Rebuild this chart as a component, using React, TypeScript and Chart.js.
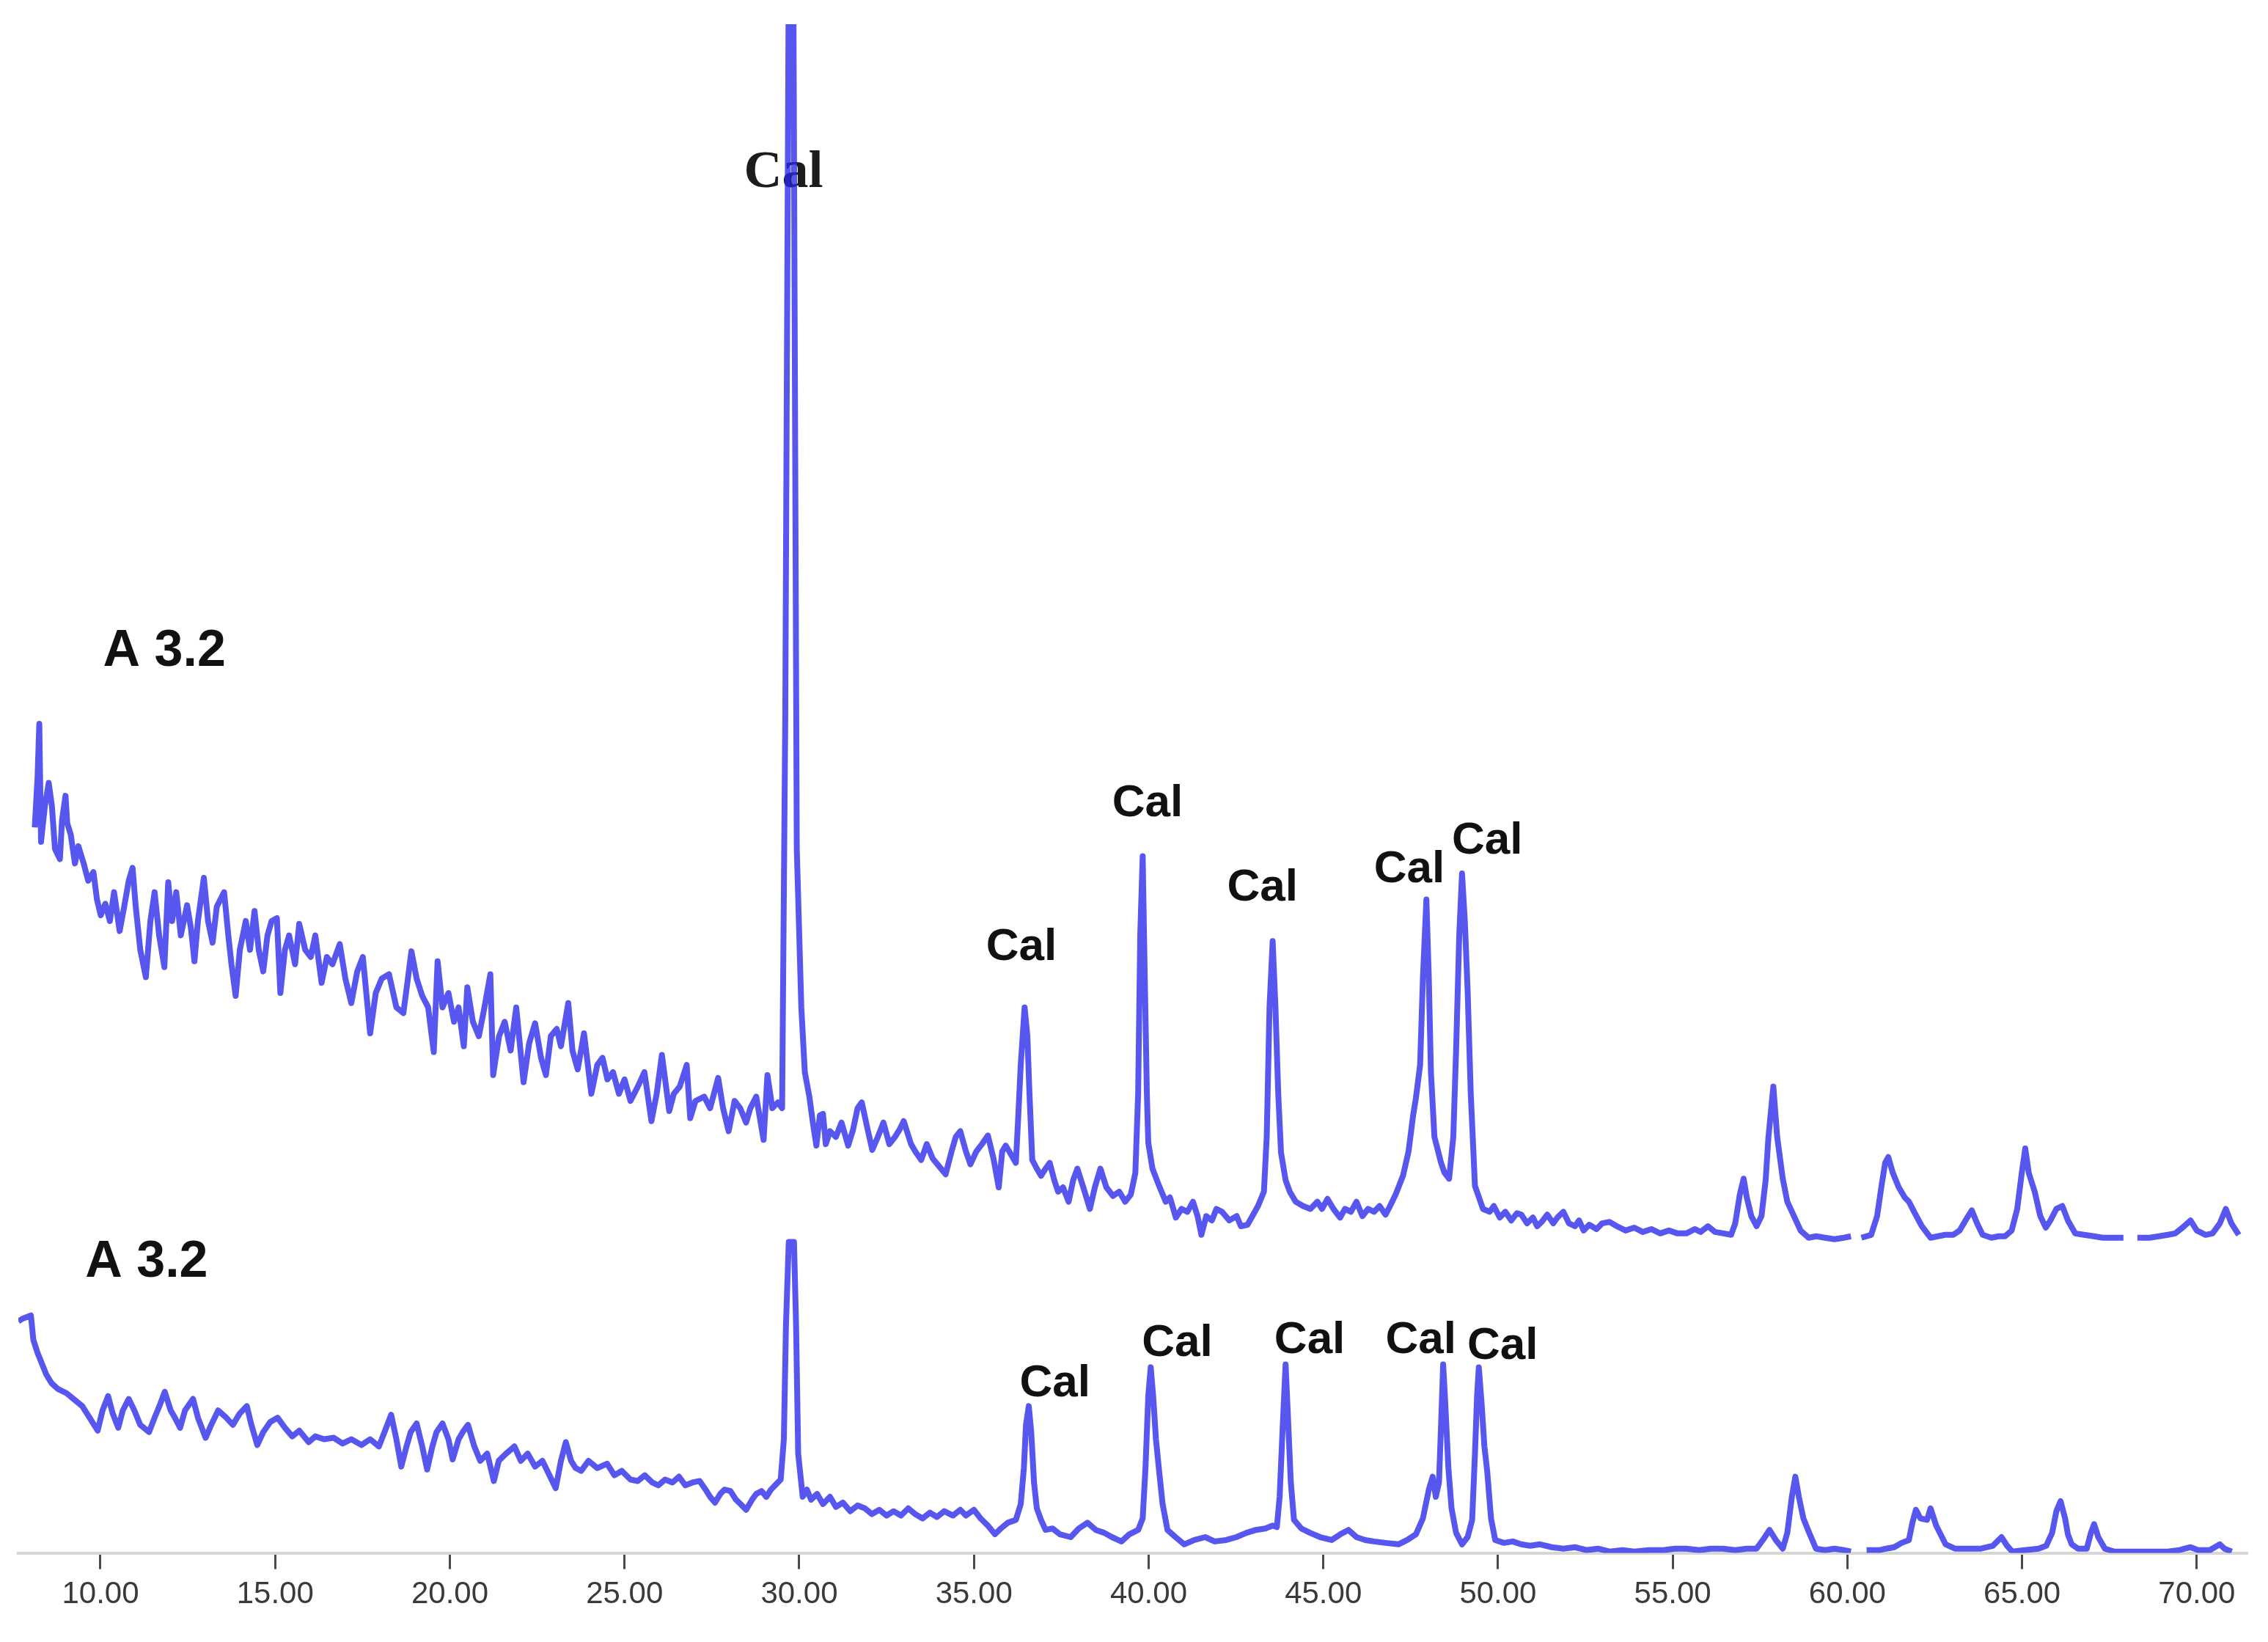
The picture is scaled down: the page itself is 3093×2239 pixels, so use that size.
import React, { useEffect, useRef } from "react";
import { Chart, registerables } from "chart.js";

Chart.register(...registerables);

// 2θ tick values shown on the x axis
const xTickValues = [10, 15, 20, 25, 30, 35, 40, 45, 50, 55, 60, 65, 70];

// Upper pattern: [2θ (deg), intensity (a.u., offset trace)]
const upperTrace: [number, number | null][] = [
  [8.12, 504], [8.2, 539], [8.25, 576], [8.3, 494], [8.41, 519], [8.52, 535], [8.61, 519], [8.7, 489], [8.84, 482], [8.9, 509],
  [9.0, 526], [9.05, 507], [9.15, 499], [9.27, 479], [9.37, 491], [9.52, 479], [9.65, 467], [9.8, 473], [9.9, 454], [10.01, 443],
  [10.14, 451], [10.27, 439], [10.39, 459], [10.55, 432], [10.68, 449], [10.81, 467], [10.92, 476], [11.01, 449], [11.14, 419], [11.3, 400],
  [11.43, 439], [11.55, 459], [11.68, 429], [11.83, 407], [11.94, 466], [12.05, 439], [12.17, 459], [12.3, 429], [12.48, 450], [12.59, 434],
  [12.69, 411], [12.79, 439], [12.96, 469], [13.08, 439], [13.21, 424], [13.33, 449], [13.54, 459], [13.66, 429], [13.75, 409], [13.87, 387],
  [13.99, 419], [14.16, 439], [14.28, 419], [14.41, 446], [14.53, 419], [14.66, 404], [14.78, 429], [14.9, 439], [15.05, 441], [15.15, 389],
  [15.28, 419], [15.4, 429], [15.57, 409], [15.69, 437], [15.86, 419], [16.02, 414], [16.15, 429], [16.33, 396], [16.48, 414], [16.64, 409],
  [16.85, 423], [17.01, 399], [17.18, 382], [17.35, 404], [17.51, 414], [17.72, 361], [17.88, 389], [18.05, 399], [18.26, 402], [18.47, 379],
  [18.67, 375], [18.8, 399], [18.9, 418], [19.05, 399], [19.21, 387], [19.38, 379], [19.54, 348], [19.65, 411], [19.79, 379], [19.96, 389],
  [20.12, 369], [20.25, 379], [20.4, 352], [20.5, 393], [20.66, 369], [20.83, 359], [20.99, 379], [21.16, 402], [21.24, 332], [21.41, 359],
  [21.57, 369], [21.74, 349], [21.9, 379], [22.11, 327], [22.27, 354], [22.44, 368], [22.61, 344], [22.75, 332], [22.89, 359], [23.06, 364],
  [23.18, 352], [23.39, 382], [23.51, 349], [23.66, 336], [23.84, 361], [24.05, 319], [24.22, 339], [24.37, 344], [24.51, 329], [24.67, 334],
  [24.84, 319], [25.0, 329], [25.17, 314], [25.38, 324], [25.57, 334], [25.77, 300], [25.92, 319], [26.07, 346], [26.28, 307], [26.41, 319],
  [26.58, 324], [26.78, 339], [26.88, 302], [27.03, 314], [27.28, 317], [27.45, 309], [27.68, 330], [27.82, 309], [27.98, 293], [28.15, 314],
  [28.31, 309], [28.48, 299], [28.6, 309], [28.77, 317], [28.98, 287], [29.09, 332], [29.23, 309], [29.39, 313], [29.51, 309], [29.6, 579],
  [29.7, 1100], [29.83, 1100], [29.93, 489], [30.06, 379], [30.16, 334], [30.29, 317], [30.39, 299], [30.49, 283], [30.59, 304], [30.68, 305],
  [30.76, 284], [30.88, 293], [31.05, 289], [31.21, 299], [31.4, 283], [31.54, 294], [31.67, 309], [31.79, 313], [31.96, 294], [32.09, 280],
  [32.25, 289], [32.41, 299], [32.58, 284], [32.74, 289], [32.87, 294], [32.99, 300], [33.2, 284], [33.32, 279], [33.49, 273], [33.65, 284],
  [33.82, 274], [33.99, 269], [34.19, 263], [34.36, 279], [34.48, 289], [34.61, 293], [34.77, 279], [34.9, 270], [35.07, 279], [35.23, 284],
  [35.4, 290], [35.56, 274], [35.71, 254], [35.81, 279], [35.91, 283], [36.01, 279], [36.2, 271], [36.26, 299], [36.34, 339], [36.45, 379],
  [36.53, 359], [36.59, 319], [36.67, 273], [36.8, 267], [36.92, 262], [37.05, 267], [37.17, 271], [37.3, 259], [37.41, 251], [37.55, 254],
  [37.71, 244], [37.84, 259], [37.96, 267], [38.13, 254], [38.32, 239], [38.46, 254], [38.62, 267], [38.79, 254], [38.98, 248], [39.16, 251],
  [39.33, 244], [39.49, 249], [39.62, 264], [39.7, 319], [39.76, 429], [39.83, 484], [39.89, 399], [39.95, 319], [39.99, 285], [40.11, 267],
  [40.3, 255], [40.49, 244], [40.61, 247], [40.78, 233], [40.94, 239], [41.11, 237], [41.27, 244], [41.4, 234], [41.51, 221], [41.65, 234],
  [41.81, 231], [41.94, 239], [42.1, 237], [42.31, 231], [42.52, 234], [42.64, 227], [42.83, 228], [42.97, 234], [43.13, 241], [43.3, 251],
  [43.38, 289], [43.46, 379], [43.55, 425], [43.63, 379], [43.71, 319], [43.79, 278], [43.92, 259], [44.04, 251], [44.21, 244], [44.42, 241],
  [44.63, 239], [44.83, 244], [44.96, 239], [45.12, 246], [45.29, 239], [45.48, 233], [45.62, 239], [45.79, 237], [45.95, 244], [46.12, 234],
  [46.28, 239], [46.45, 237], [46.61, 241], [46.78, 235], [46.93, 242], [47.07, 249], [47.28, 262], [47.44, 279], [47.57, 304], [47.65, 316],
  [47.77, 339], [47.85, 399], [47.95, 454], [48.02, 399], [48.08, 334], [48.18, 289], [48.37, 271], [48.47, 264], [48.6, 260], [48.72, 289],
  [48.8, 349], [48.89, 429], [48.97, 472], [49.05, 439], [49.13, 391], [49.22, 319], [49.34, 255], [49.57, 239], [49.76, 237], [49.88, 241],
  [50.05, 233], [50.21, 237], [50.38, 231], [50.54, 236], [50.67, 235], [50.83, 229], [51.0, 233], [51.12, 227], [51.25, 230], [51.41, 235],
  [51.58, 229], [51.7, 233], [51.87, 237], [52.03, 229], [52.2, 227], [52.32, 231], [52.45, 224], [52.61, 228], [52.82, 225], [52.98, 229],
  [53.19, 230], [53.4, 227], [53.65, 224], [53.9, 226], [54.14, 223], [54.39, 225], [54.64, 222], [54.89, 224], [55.14, 222], [55.39, 222],
  [55.63, 225], [55.8, 223], [56.01, 227], [56.21, 223], [56.46, 222], [56.67, 221], [56.79, 229], [56.92, 249], [57.03, 260], [57.12, 247],
  [57.25, 234], [57.4, 227], [57.54, 234], [57.66, 259], [57.74, 289], [57.88, 324], [57.99, 289], [58.15, 260], [58.28, 244], [58.47, 234],
  [58.66, 224], [58.89, 219], [59.11, 220], [59.36, 219], [59.63, 218], [59.9, 219], [60.1, 220], [60.25, null], [60.4, 219], [60.68, 221],
  [60.85, 234], [60.97, 254], [61.08, 271], [61.17, 275], [61.3, 264], [61.47, 254], [61.64, 247], [61.76, 244], [61.93, 236], [62.13, 227],
  [62.38, 219], [62.59, 220], [62.8, 221], [63.03, 221], [63.21, 224], [63.38, 231], [63.56, 238], [63.71, 229], [63.87, 221], [64.12, 219],
  [64.33, 220], [64.51, 220], [64.7, 224], [64.86, 239], [64.99, 264], [65.09, 281], [65.19, 264], [65.36, 251], [65.52, 234], [65.68, 226],
  [65.81, 231], [65.98, 239], [66.15, 241], [66.31, 231], [66.52, 222], [66.77, 221], [67.06, 220], [67.31, 219], [67.6, 219], [67.9, 219],
  [68.05, null], [68.3, 219], [68.65, 219], [68.92, 220], [69.17, 221], [69.38, 222], [69.59, 226], [69.82, 231], [70.0, 224], [70.25, 221],
  [70.45, 222], [70.66, 229], [70.83, 239], [70.99, 229], [71.2, 221],
];

// Lower pattern: [2θ (deg), intensity (a.u.)]
const lowerTrace: [number, number | null][] = [
  [7.65, 161], [7.79, 163], [8.01, 165], [8.08, 148], [8.2, 139], [8.3, 133], [8.45, 124], [8.6, 118], [8.78, 114], [9.03, 111],
  [9.23, 107], [9.48, 102], [9.69, 94], [9.92, 85], [10.06, 99], [10.22, 109], [10.35, 97], [10.51, 87], [10.64, 99], [10.81, 107],
  [10.97, 99], [11.14, 89], [11.39, 84], [11.55, 94], [11.72, 104], [11.84, 112], [12.01, 99], [12.13, 94], [12.28, 87], [12.42, 99],
  [12.65, 107], [12.79, 94], [13.01, 80], [13.17, 89], [13.37, 99], [13.6, 94], [13.79, 89], [13.99, 97], [14.19, 102], [14.32, 89],
  [14.49, 75], [14.66, 84], [14.86, 91], [15.07, 94], [15.28, 87], [15.49, 81], [15.69, 85], [15.96, 77], [16.15, 81], [16.4, 79],
  [16.68, 80], [16.93, 76], [17.18, 79], [17.47, 75], [17.72, 79], [17.97, 74], [18.13, 84], [18.32, 96], [18.47, 79], [18.61, 60],
  [18.76, 74], [18.88, 84], [19.05, 90], [19.21, 74], [19.35, 58], [19.5, 74], [19.62, 84], [19.79, 90], [19.96, 79], [20.08, 65],
  [20.25, 79], [20.37, 84], [20.52, 89], [20.7, 74], [20.87, 64], [21.07, 69], [21.26, 50], [21.4, 64], [21.61, 69], [21.85, 74],
  [22.03, 64], [22.23, 69], [22.44, 60], [22.65, 64], [22.85, 54], [23.03, 45], [23.18, 64], [23.32, 77], [23.47, 64], [23.6, 59],
  [23.76, 57], [23.97, 64], [24.22, 59], [24.5, 62], [24.71, 54], [24.92, 57], [25.17, 51], [25.38, 50], [25.58, 54], [25.79, 49],
  [25.97, 47], [26.16, 51], [26.37, 49], [26.56, 53], [26.74, 47], [26.95, 49], [27.15, 50], [27.32, 44], [27.45, 39], [27.59, 35],
  [27.74, 41], [27.86, 44], [28.03, 43], [28.19, 37], [28.32, 34], [28.48, 30], [28.65, 37], [28.77, 41], [28.92, 43], [29.06, 39],
  [29.19, 44], [29.35, 48], [29.47, 51], [29.56, 79], [29.62, 158], [29.7, 216], [29.85, 216], [29.91, 158], [29.97, 69], [30.1, 39],
  [30.22, 44], [30.34, 37], [30.51, 41], [30.68, 34], [30.88, 39], [31.05, 32], [31.25, 35], [31.46, 29], [31.67, 33], [31.88, 31],
  [32.08, 27], [32.29, 30], [32.5, 26], [32.7, 29], [32.91, 26], [33.12, 31], [33.32, 27], [33.53, 24], [33.74, 28], [33.94, 25],
  [34.15, 29], [34.4, 26], [34.61, 30], [34.77, 26], [35.0, 30], [35.19, 24], [35.4, 19], [35.6, 13], [35.77, 17], [35.97, 21],
  [36.2, 23], [36.34, 34], [36.43, 59], [36.49, 89], [36.57, 102], [36.64, 84], [36.72, 49], [36.8, 31], [36.92, 23], [37.05, 16],
  [37.25, 17], [37.46, 13], [37.77, 11], [38.0, 17], [38.25, 21], [38.49, 16], [38.73, 14], [38.95, 11], [39.22, 8], [39.45, 13],
  [39.7, 16], [39.83, 24], [39.91, 59], [39.99, 109], [40.06, 129], [40.13, 109], [40.21, 79], [40.3, 57], [40.4, 34], [40.54, 16],
  [40.77, 11], [41.02, 6], [41.31, 9], [41.62, 11], [41.89, 8], [42.22, 9], [42.51, 11], [42.8, 14], [43.07, 16], [43.34, 17],
  [43.55, 19], [43.67, 18], [43.75, 39], [43.84, 89], [43.92, 131], [43.98, 99], [44.07, 49], [44.16, 23], [44.37, 17], [44.62, 14],
  [44.91, 11], [45.24, 9], [45.49, 13], [45.72, 16], [45.95, 11], [46.2, 9], [46.45, 8], [46.78, 7], [47.15, 6], [47.4, 9],
  [47.65, 13], [47.85, 24], [48.02, 44], [48.13, 53], [48.22, 39], [48.31, 49], [48.37, 89], [48.43, 131], [48.49, 104], [48.58, 59],
  [48.67, 31], [48.8, 14], [48.97, 6], [49.13, 11], [49.26, 23], [49.34, 69], [49.4, 109], [49.45, 129], [49.53, 104], [49.61, 74],
  [49.69, 57], [49.8, 24], [49.92, 9], [50.17, 7], [50.42, 8], [50.66, 6], [50.92, 5], [51.2, 6], [51.54, 4], [51.87, 3],
  [52.2, 4], [52.53, 2], [52.86, 3], [53.19, 1], [53.57, 2], [53.9, 1], [54.31, 2], [54.73, 2], [55.06, 3], [55.39, 3],
  [55.76, 2], [56.09, 3], [56.44, 3], [56.79, 2], [57.12, 3], [57.4, 3], [57.58, 9], [57.77, 16], [57.95, 9], [58.15, 3],
  [58.28, 14], [58.41, 39], [58.51, 53], [58.61, 39], [58.74, 24], [58.89, 15], [59.1, 3], [59.36, 2], [59.63, 3], [59.9, 2],
  [60.1, 1], [60.3, null], [60.55, 2], [60.93, 2], [61.11, 3], [61.34, 4], [61.55, 7], [61.76, 9], [61.86, 21], [61.96, 30], [62.09, 24],
  [62.28, 23], [62.38, 31], [62.54, 19], [62.81, 6], [63.08, 3], [63.45, 3], [63.82, 3], [64.16, 5], [64.41, 11], [64.57, 5],
  [64.72, 1], [65.07, 2], [65.47, 3], [65.69, 5], [65.86, 14], [65.98, 29], [66.1, 36], [66.23, 24], [66.31, 13], [66.42, 6],
  [66.6, 3], [66.85, 3], [66.97, 14], [67.06, 20], [67.18, 11], [67.37, 3], [67.63, 1], [67.97, 1], [68.38, 1], [68.8, 1],
  [69.17, 1], [69.5, 2], [69.82, 4], [70.04, 2], [70.37, 2], [70.66, 6], [70.79, 3], [71.0, 1],
];

// Sample labels
const sampleNames = ["A 3.2", "A 3.2"];
const sampleLabelX = [11.83, 11.32];
const sampleLabelY = [616, 192];

// Calcite peak labels (upper pattern)
const upperCalX = [36.36, 39.97, 43.26, 47.46, 49.69];
const upperCalY = [412, 512, 453, 466, 486];
// Calcite peak labels (lower pattern)
const lowerCalX = [37.32, 40.82, 44.61, 47.79, 50.13];
const lowerCalY = [109, 137, 139, 139, 135];
// Label over the main calcite reflection
const mainCalX = [29.55];
const mainCalY = [949];

const LINE_COLOR = "rgba(40, 40, 236, 0.78)";

const labelPlugin = {
  id: "peakLabels",
  beforeDatasetsDraw(chart: any) {
    const { ctx, scales } = chart;
    const x = scales.x;
    const y = scales.y;
    ctx.save();
    ctx.textAlign = "center";
    ctx.textBaseline = "alphabetic";
    ctx.fillStyle = "#1c1c1c";
    ctx.font = 'bold 72px "Liberation Serif", "Times New Roman", serif';
    mainCalX.forEach((v, i) => {
      ctx.fillText("Cal", x.getPixelForValue(v), y.getPixelForValue(mainCalY[i]));
    });
    ctx.fillStyle = "#111111";
    ctx.font = 'bold 62px "Liberation Sans", Arial, sans-serif';
    upperCalX.forEach((v, i) => {
      ctx.fillText("Cal", x.getPixelForValue(v), y.getPixelForValue(upperCalY[i]));
    });
    lowerCalX.forEach((v, i) => {
      ctx.fillText("Cal", x.getPixelForValue(v), y.getPixelForValue(lowerCalY[i]));
    });
    ctx.font = 'bold 70px "Liberation Sans", Arial, sans-serif';
    sampleNames.forEach((name, i) => {
      ctx.fillText(name, x.getPixelForValue(sampleLabelX[i]), y.getPixelForValue(sampleLabelY[i]));
    });
    ctx.restore();
  },
};

export default function App() {
  const canvasRef = useRef<HTMLCanvasElement | null>(null);

  useEffect(() => {
    const canvas = canvasRef.current;
    if (!canvas) return;
    const toPoints = (arr: [number, number | null][]) => arr.map(([x, y]) => ({ x, y }));
    const chart = new Chart(canvas, {
      type: "line",
      data: {
        datasets: [
          {
            label: "A 3.2 (upper)",
            data: toPoints(upperTrace) as any,
            borderColor: LINE_COLOR,
            borderWidth: 8,
            borderJoinStyle: "round",
            pointRadius: 0,
            tension: 0,
            spanGaps: false,
            fill: false,
          },
          {
            label: "A 3.2 (lower)",
            data: toPoints(lowerTrace) as any,
            borderColor: LINE_COLOR,
            borderWidth: 8,
            borderJoinStyle: "round",
            pointRadius: 0,
            tension: 0,
            spanGaps: false,
            fill: false,
          },
        ],
      },
      options: {
        responsive: false,
        animation: false,
        devicePixelRatio: 1,
        layout: { padding: { left: 25, right: 28, top: 33, bottom: 29 } },
        plugins: {
          legend: { display: false },
          tooltip: { enabled: false },
        },
        scales: {
          x: {
            type: "linear",
            min: 7.65,
            max: 71.45,
            afterBuildTicks: (axis: any) => {
              axis.ticks = xTickValues.map((v) => ({ value: v }));
            },
            ticks: {
              callback: (v: any) => Number(v).toFixed(2),
              font: { family: '"Liberation Sans", Arial, sans-serif', size: 42 },
              color: "#3a3a3a",
              padding: 10,
              maxRotation: 0,
              autoSkip: false,
            },
            grid: {
              drawOnChartArea: false,
              drawTicks: true,
              tickLength: 22,
              tickColor: "#4a4a4a",
              tickWidth: 3,
              color: "#4a4a4a",
            },
            border: { display: true, color: "#d6d6d6", width: 4 },
          },
          y: { display: false, min: 0, max: 1062 },
        },
      },
      plugins: [labelPlugin],
    });
    return () => chart.destroy();
  }, []);

  return (
    <div style={{ position: "absolute", left: 0, top: 0, width: 3093, height: 2239, background: "#fff" }}>
      <canvas ref={canvasRef} width={3093} height={2239} style={{ display: "block" }} />
    </div>
  );
}
